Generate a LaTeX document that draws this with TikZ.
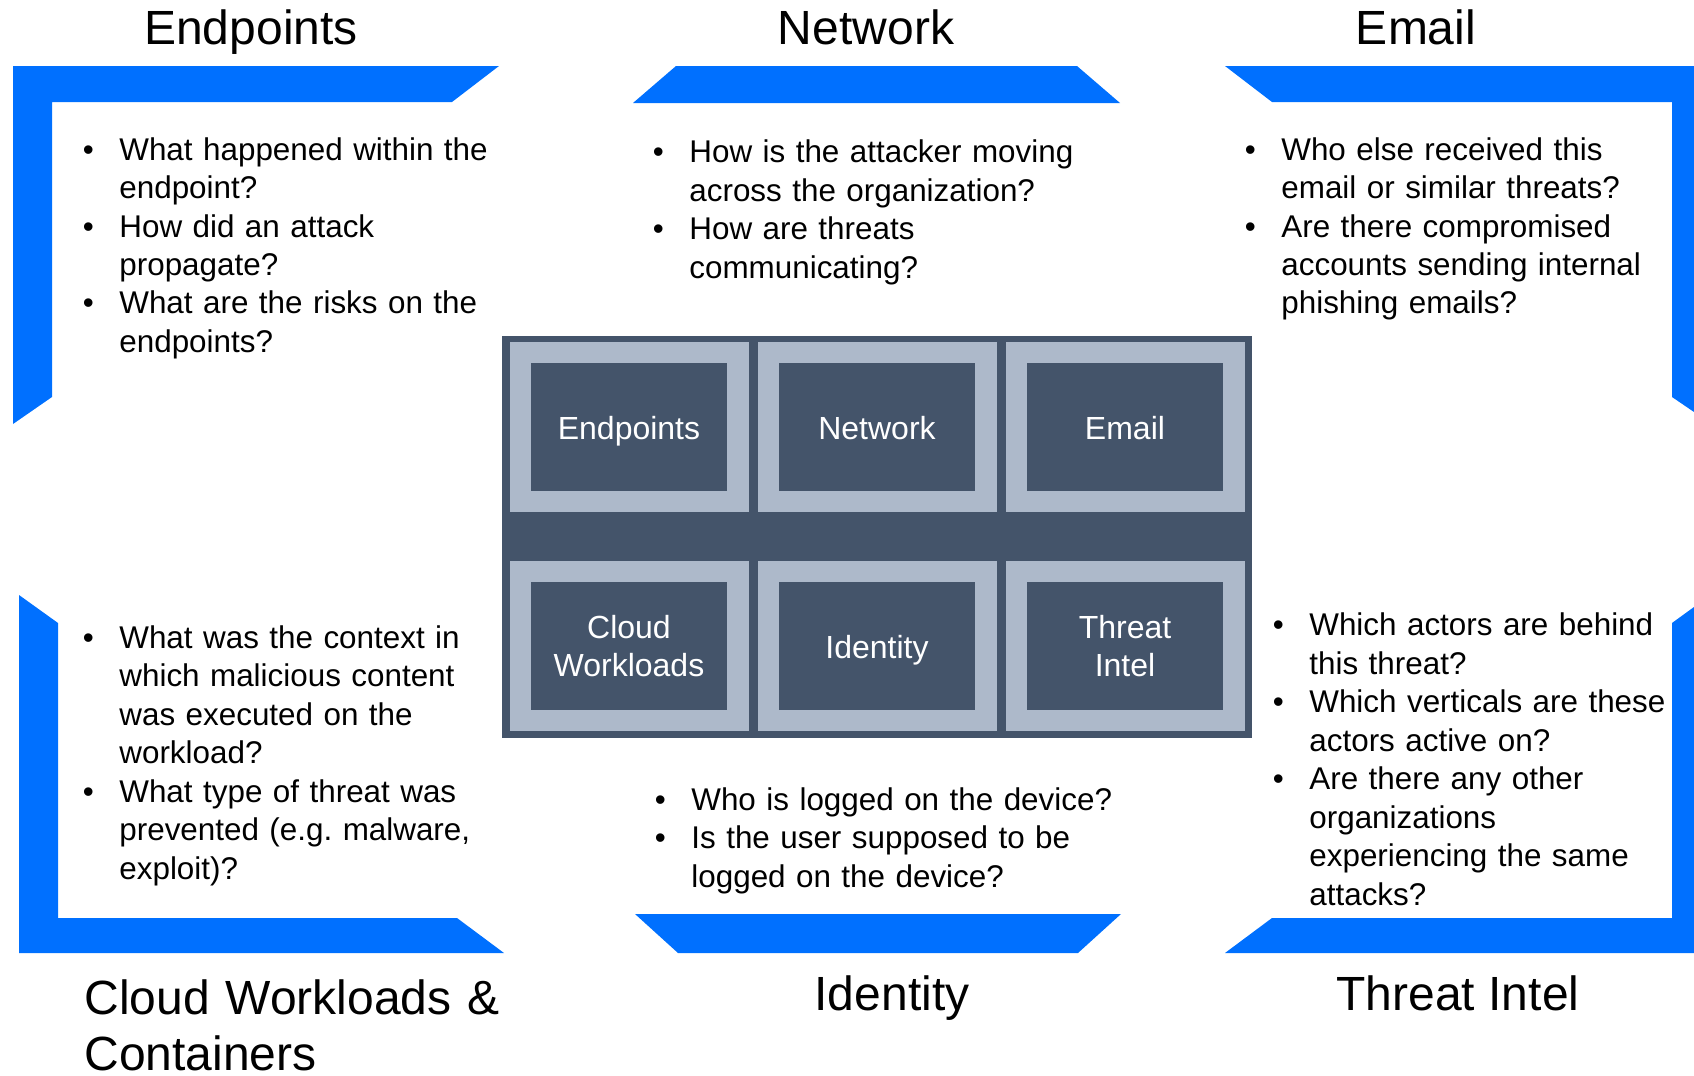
\documentclass[tikz,border=0pt]{standalone}
\usepackage{fontspec}
\setmainfont{Liberation Sans}
\usepackage{xcolor}
\usepackage{tikz}
\usetikzlibrary{positioning}
\definecolor{barblue}{RGB}{0,112,255}
\definecolor{slate}{HTML}{44546A}
\definecolor{cellgray}{HTML}{ADB9CA}
\newlength{\qind}
\setlength{\qind}{18.25pt}
% one bullet point with a hanging indent; \par goes between points
\newcommand{\qitem}{\hangindent=\qind\hangafter=1\noindent\makebox[\qind][l]{\textbullet}}

\begin{document}
\begin{tikzpicture}[x=0.5pt, y=-0.5pt,
  heading/.style={inner sep=0pt, font=\fontsize{24pt}{28pt}\selectfont},
  questions/.style={inner sep=0pt, anchor=base west, text width=260pt,
    font=\fontsize{15.7pt}{19.25pt}\selectfont\frenchspacing},
  cellbox/.style={fill=cellgray, inner sep=0pt, minimum width=119.5pt, minimum height=85pt},
  tilebox/.style={fill=slate, text=white, align=center, inner sep=0pt,
    minimum width=97.75pt, minimum height=64pt, font=\fontsize{16pt}{19.25pt}\selectfont},
  oneline/.style={text height=12pt, text depth=0pt},
  twoline/.style={}]
\useasboundingbox (0,0) rectangle (1694,1076);

% Blue corner brackets
\fill[barblue] (13,66) -- (499,66) -- (452,102) -- (52,102) -- (52,397) -- (13,424) -- cycle;
\fill[barblue] (1225,66) -- (1694,66) -- (1694,412) -- (1672,397) -- (1672,102) -- (1272,102) -- cycle;
\fill[barblue] (19,595) -- (58,623) -- (58,918) -- (457,918) -- (504,953) -- (19,953) -- cycle;
\fill[barblue] (1225,953) -- (1272,918) -- (1672,918) -- (1672,623) -- (1694,607) -- (1694,953) -- cycle;

% Top and bottom bars
\fill[barblue] (676,66) -- (1077,66) -- (1120,103) -- (633,103) -- cycle;
\fill[barblue] (635,914) -- (1121,914) -- (1078,953) -- (678,953) -- cycle;

% Headings
\node[heading, anchor=base] (hd-ep) at (251,44) {Endpoints};
\node[heading, anchor=base] (hd-nw) at (866,44) {Network};
\node[heading, anchor=base] (hd-em) at (1416,45) {Email};
\node[heading, anchor=base west, text width=260pt, align=left] (hd-cw) at (84,1014) {Cloud Workloads \&\\Containers};
\node[heading, anchor=base] (hd-id) at (892,1010) {Identity};
\node[heading, anchor=base] (hd-ti) at (1458,1010) {Threat Intel};

% Questions
\node[questions] (q-ep) at (82.5,160) {%
  \qitem What happened within the\newline endpoint?
  \par\qitem How did an attack\newline propagate?
  \par\qitem What are the risks on the\newline endpoints?\par};
\node[questions] (q-nw) at (652.5,162.5) {%
  \qitem How is the attacker moving\newline across the organization?
  \par\qitem How are threats\newline communicating?\par};
\node[questions] (q-em) at (1244.5,160) {%
  \qitem Who else received this\newline email or similar threats?
  \par\qitem Are there compromised\newline accounts sending internal\newline phishing emails?\par};
\node[questions] (q-cw) at (82.5,648) {%
  \qitem What was the context in\newline which malicious content\newline was executed on the\newline workload?
  \par\qitem What type of threat was\newline prevented (e.g. malware,\newline exploit)?\par};
\node[questions] (q-id) at (654.5,810) {%
  \qitem Who is logged on the device?
  \par\qitem Is the user supposed to be\newline logged on the device?\par};
\node[questions] (q-ti) at (1272.5,635.5) {%
  \qitem Which actors are behind\newline this threat?
  \par\qitem Which verticals are these\newline actors active on?
  \par\qitem Are there any other\newline organizations\newline experiencing the same\newline attacks?\par};

% Data source grid
\node[fill=slate, inner sep=0pt, minimum width=375.25pt, minimum height=201.15pt] (grid) at (876.75,536.85) {};
\foreach \name/\cx/\cy/\txt/\lines in {ep/629/427/Endpoints/oneline, nw/877/427/Network/oneline,
    em/1125/427/Email/oneline, cw/629/646/{Cloud\\Workloads}/twoline,
    id/877/646/Identity/oneline, ti/1125/646/{Threat\\Intel}/twoline} {
  \node[cellbox] (cell-\name) at (\cx,\cy) {};
  \node[tilebox, \lines] (tile-\name) at (cell-\name) {\txt};
}

\end{tikzpicture}
\end{document}
